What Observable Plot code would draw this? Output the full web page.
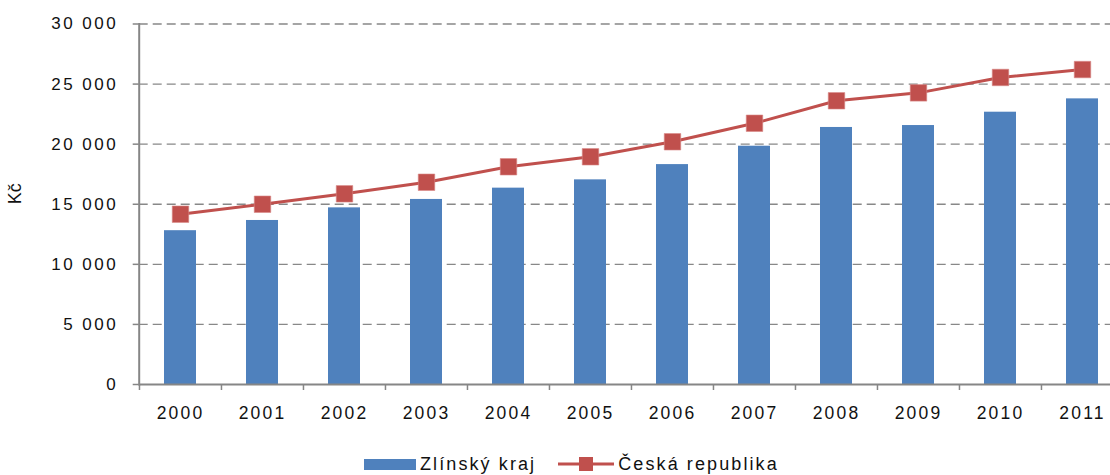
<!DOCTYPE html>
<html>
<head>
<meta charset="utf-8">
<script src="https://cdn.jsdelivr.net/npm/d3@7"></script>
<script src="https://cdn.jsdelivr.net/npm/@observablehq/plot@0.6"></script>
<style>
  body { margin: 0; background: #fff; font-family: "Liberation Sans", Arial, sans-serif; position: relative; width: 1110px; height: 475px; overflow: hidden; }
  #legend { position: absolute; top: 452px; left: 364px; height: 24px; display: flex; align-items: center; font-size: 18px; letter-spacing: 2.1px; color: #111; white-space: nowrap; }
  .sw { display: inline-block; }
  svg g[aria-label="y-axis tick label"] text { letter-spacing: 2.5px; }
  svg g[aria-label="x-axis tick label"] text { letter-spacing: 2.2px; }
</style>
</head>
<body>
<div id="chart"></div>
<div id="legend"></div>
<script>
const years = ["2000","2001","2002","2003","2004","2005","2006","2007","2008","2009","2010","2011"];
const zlinskyKraj = [12800, 13650, 14700, 15400, 16340, 17030, 18300, 19830, 21390, 21550, 22660, 23770];
const ceskaRepublika = [14170, 15000, 15870, 16830, 18120, 18950, 20200, 21740, 23610, 24270, 25550, 26210];
const yTicks = [0, 5000, 10000, 15000, 20000, 25000, 30000];
const seriesNames = ["Zlínský kraj", "Česká republika"];
const yLabel = "Kč";

const barData = years.map((y, i) => ({year: y, value: zlinskyKraj[i]}));
const lineData = years.map((y, i) => ({year: y, value: ceskaRepublika[i]}));

const blue = "#4F81BD", red = "#C0504D", gray = "#868686";
const fmt = v => d3.format(",")(v).replace(/,/g, " ");

const chart = Plot.plot({
  width: 1110,
  height: 440,
  marginTop: 23.5,
  marginBottom: 56,
  marginLeft: 138.7,
  marginRight: 0,
  style: {fontFamily: '"Liberation Sans", Arial, sans-serif', fontSize: "17px", color: "#111", background: "#fff"},
  x: {type: "band", domain: years, padding: 0, range: [138.7, 1123.5], label: null},
  y: {domain: [0, 30000], label: null},
  marks: [
    Plot.gridY(yTicks.filter(d => d > 0), {stroke: "#888", strokeOpacity: 1, strokeWidth: 1.4, strokeDasharray: "9,5"}),
    Plot.barY(barData, {x: "year", y: "value", fill: blue, insetLeft: 25, insetRight: 25}),
    Plot.ruleY([0], {stroke: gray, strokeWidth: 2}),
    Plot.frame({anchor: "left", stroke: gray, strokeWidth: 2}),
    Plot.axisY({ticks: yTicks, tickSize: 6, tickPadding: 15, tickFormat: fmt, stroke: gray, strokeWidth: 1.5, label: null, fontSize: 17}),
    Plot.axisX({tickSize: 6, fill: "none", stroke: gray, strokeWidth: 1.5, dx: -41.03, label: null}),
    Plot.axisX({tickSize: 0, tickPadding: 22, label: null, fontSize: 17.5}),
    Plot.text([yLabel], {frameAnchor: "left", rotate: -90, dx: -124, fontSize: 18}),
    Plot.line(lineData, {x: "year", y: "value", stroke: red, strokeWidth: 3}),
    Plot.dot(lineData, {x: "year", y: "value", symbol: "square", r: 9.3, fill: red, stroke: "#d98886", strokeWidth: 0.6})
  ]
});
document.getElementById("chart").appendChild(chart);

const legend = document.getElementById("legend");
legend.innerHTML = `
  <span class="sw" style="width:52px;height:11px;background:${blue};margin-right:4px"></span>
  <span>${seriesNames[0]}</span>
  <svg width="56" height="20" style="margin-left:22px;margin-right:4px"><line x1="0" x2="56" y1="10" y2="10" stroke="${red}" stroke-width="3"/><rect x="21" y="3" width="14" height="14" fill="${red}"/></svg>
  <span>${seriesNames[1]}</span>`;
</script>
</body>
</html>
